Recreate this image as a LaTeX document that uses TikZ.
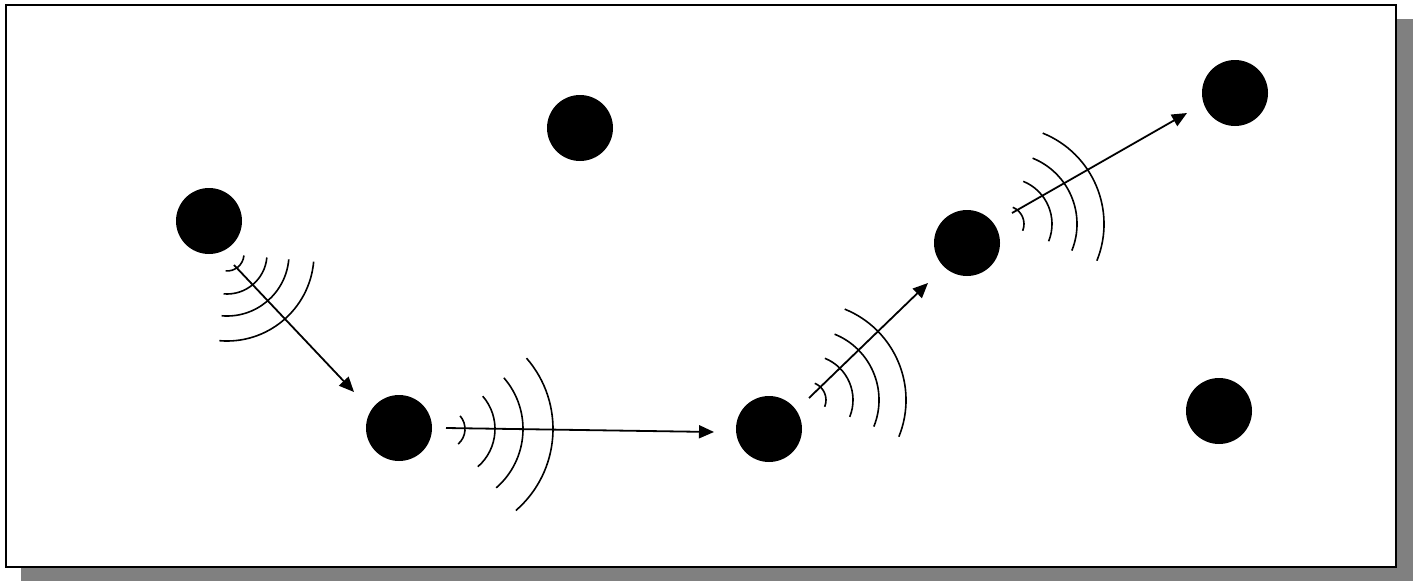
\documentclass[tikz,border=0pt]{standalone}
\usepackage{xcolor}
\usepackage{tikz}
\usetikzlibrary{arrows.meta, calc}

\definecolor{shadowgray}{RGB}{128,128,128}

% four concentric signal arcs: centre, axis angle, radii
\newcommand{\waves}[3]{%
  \foreach \r in {#3}
    \draw[wave] ($(#1)+({#2+45}:\r pt)$) arc[start angle={#2+45}, end angle={#2-45}, radius=\r pt];
}

\begin{document}
\begin{tikzpicture}[
            x=1pt, y=-1pt,                       % pixel-like grid, y downwards
            >={Triangle[length=15pt,width=13pt]}, % arrow tip style
            every node/.style={circle,fill=black,minimum size=66pt,inner sep=0pt}, % style for all nodes
            wave/.style={line width=1.6pt},
            hop/.style={->,line width=1.8pt}
          ]
          \useasboundingbox (0,0) rectangle (1413,581);

          % frame with drop shadow
          \fill[shadowgray] (21,19) rectangle (1413,581);
          \draw[line width=2pt,fill=white] (6,5) rectangle (1396,567);

          % stations
          \node (v1) at (209,221) {};
          \node (v2) at (580,128) {};
          \node (v3) at (399,428) {};
          \node (v4) at (769,429) {};
          \node (v5) at (967,243) {};
          \node (v6) at (1235,93) {};
          \node (v7) at (1219,411) {};

          % centres of the signal arcs
          \coordinate (w1) at (227,254);
          \coordinate (w2) at (445,429);
          \coordinate (w3) at (808,400);
          \coordinate (w4) at (1006,224);

          % hop start and end points
          \coordinate (s1) at (234,265);
          \coordinate (t1) at (354,392);
          \coordinate (s2) at (446,428);
          \coordinate (t2) at (714,432);
          \coordinate (s3) at (809,398);
          \coordinate (t3) at (928,283);
          \coordinate (s4) at (1012,213);
          \coordinate (t4) at (1187,113);

          \waves{w1}{-50}{17,40,62,87}
          \waves{w2}{-4}{20,50,78,108}
          \waves{w3}{23}{18,45,71,98}
          \waves{w4}{23}{18,46,71,98}

          \draw[hop] (s1) -- (t1);
          \draw[hop] (s2) -- (t2);
          \draw[hop] (s3) -- (t3);
          \draw[hop] (s4) -- (t4);
        \end{tikzpicture}
\end{document}
